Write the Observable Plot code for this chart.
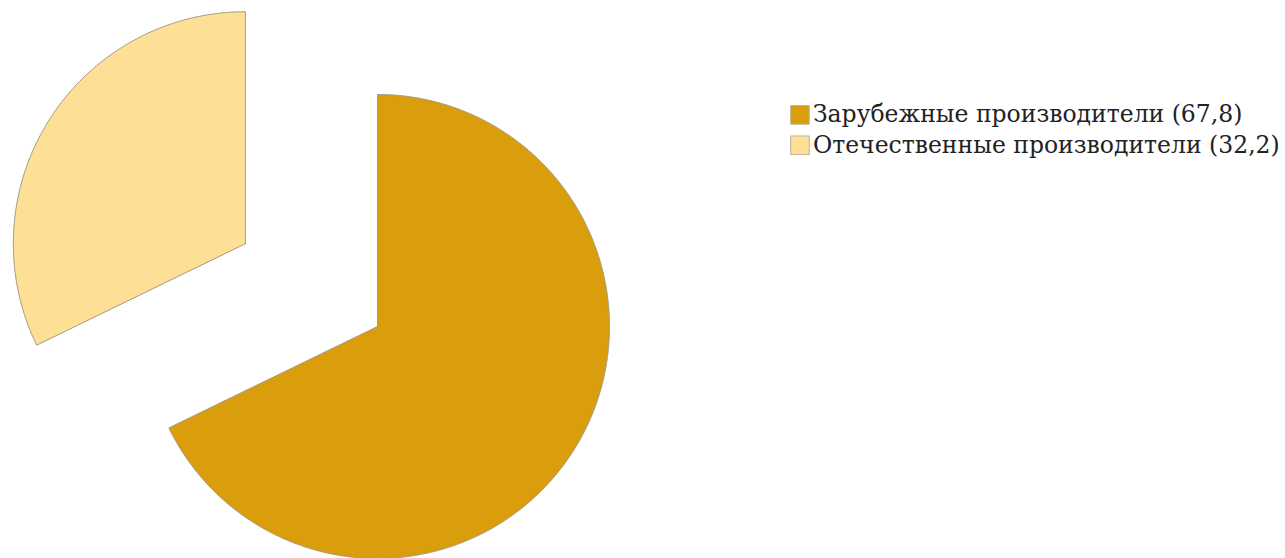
<!DOCTYPE html>
<html>
<head>
<meta charset="utf-8">
<script src="https://cdn.jsdelivr.net/npm/d3@7"></script>
<script src="https://cdn.jsdelivr.net/npm/@observablehq/plot@0.6"></script>
<style>
html,body{margin:0;padding:0;background:#fff;}
</style>
</head>
<body>
<div id="chart"></div>
<script>
const labels = ["Зарубежные производители", "Отечественные производители"];
const values = [67.8, 32.2];
const colors = ["#DA9D0B", "#FDDF96"];
const explode = [0, 0.672]; // offset of each slice, in radius units

const total = d3.sum(values);
const slices = [];
const pts = [];
let acc = 0;
values.forEach((v, i) => {
  const a0 = acc / total * 2 * Math.PI;
  acc += v;
  const a1 = acc / total * 2 * Math.PI;
  const mid = (a0 + a1) / 2;
  const cx = explode[i] * Math.sin(mid);
  const cy = explode[i] * Math.cos(mid);
  const n = Math.max(8, Math.ceil((a1 - a0) / 0.01));
  pts.push({slice: i, x: cx, y: cy});
  for (let k = 0; k <= n; k++) {
    const a = a0 + (a1 - a0) * k / n;
    pts.push({slice: i, x: cx + Math.sin(a), y: cy + Math.cos(a)});
  }
  pts.push({slice: i, x: cx, y: cy});
  slices.push({label: labels[i], value: v, color: colors[i]});
});

const legend = slices.map((s, i) => ({
  text: `${s.label} (${String(s.value).replace(".", ",")})`,
  color: s.color,
  x: 1.821,
  y: 0.912 - i * 0.131
}));

const chart = Plot.plot({
  width: 1285,
  height: 558,
  margin: 0,
  x: {domain: [-1.625, 3.914], range: [0, 1285], axis: null},
  y: {domain: [-1.0, 1.405], range: [558, 0], axis: null},
  style: {background: "#fff"},
  marks: [
    Plot.line(pts, {
      x: "x", y: "y", z: "slice",
      fill: d => colors[d.slice],
      stroke: "#A69A80",
      strokeWidth: 1,
      curve: "linear-closed"
    }),
    Plot.dot(legend, {
      x: "x", y: "y",
      symbol: "square",
      r: 10.5,
      fill: "color",
      stroke: "#BDB39C",
      strokeWidth: 1
    }),
    Plot.text(legend, {
      x: "x", y: "y",
      text: "text",
      dx: 13,
      textAnchor: "start",
      fill: "#222",
      fontSize: 23.5,
      fontFamily: "DejaVu Serif"
    })
  ]
});
document.getElementById("chart").append(chart);
</script>
</body>
</html>
